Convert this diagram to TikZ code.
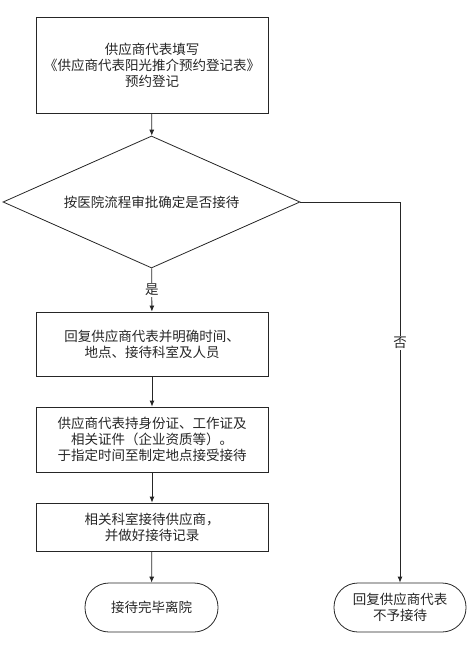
\documentclass[tikz,border=0pt]{standalone}
\usepackage{fontspec}
\setmainfont{Noto Sans CJK SC}
\usetikzlibrary{shapes.geometric,arrows.meta}
\begin{document}
\begin{tikzpicture}[x=1pt,y=-1pt,
  line width=0.8pt, draw=black!85,
  txt/.style={font=\fontsize{13.5}{16}\selectfont, text=black!85},
  box/.style={txt, draw, rectangle, minimum width=232pt, align=center, inner sep=0pt},
  term/.style={txt, draw, rectangle, rounded corners=24pt, minimum height=49pt, align=center, inner sep=0pt},
  dia/.style={txt, draw, diamond, shape aspect=2.25, minimum width=297pt, minimum height=132pt, inner sep=0pt},
  arr/.style={-{Latex[length=6pt,width=5pt]}, draw=black!85},
  lab/.style={txt, fill=white, inner sep=1pt}]
\useasboundingbox (0,0) rectangle (473,652);
\node[box, minimum height=96pt] (b1) at (152,65) {供应商代表填写\\《供应商代表阳光推介预约登记表》\\预约登记};
\node[dia] (d) at (151.5,202) {按医院流程审批确定是否接待};
\node[box, minimum height=64pt] (b2) at (152,344) {回复供应商代表并明确时间、\\地点、接待科室及人员};
\node[box, minimum height=65pt] (b3) at (152,439.5) {供应商代表持身份证、工作证及\\相关证件（企业资质等）。\\于指定时间至制定地点接受接待};
\node[box, minimum height=48pt] (b4) at (152,527) {相关科室接待供应商，\\并做好接待记录};
\node[term, minimum width=133pt] (t1) at (151.5,607.5) {接待完毕离院};
\node[term, minimum width=132pt] (t2) at (400,607.5) {回复供应商代表\\不予接待};
\coordinate (c) at (400,202);
\draw[arr] (b1) -- (d);
\draw[arr] (d) -- node[lab] {是} (b2);
\draw[arr] (b2) -- (b3);
\draw[arr] (b3) -- (b4);
\draw[arr] (b4) -- (t1);
\draw[arr] (d.east) -- (c) -- node[lab, pos=0.37] {否} (t2.north);
\end{tikzpicture}
\end{document}
